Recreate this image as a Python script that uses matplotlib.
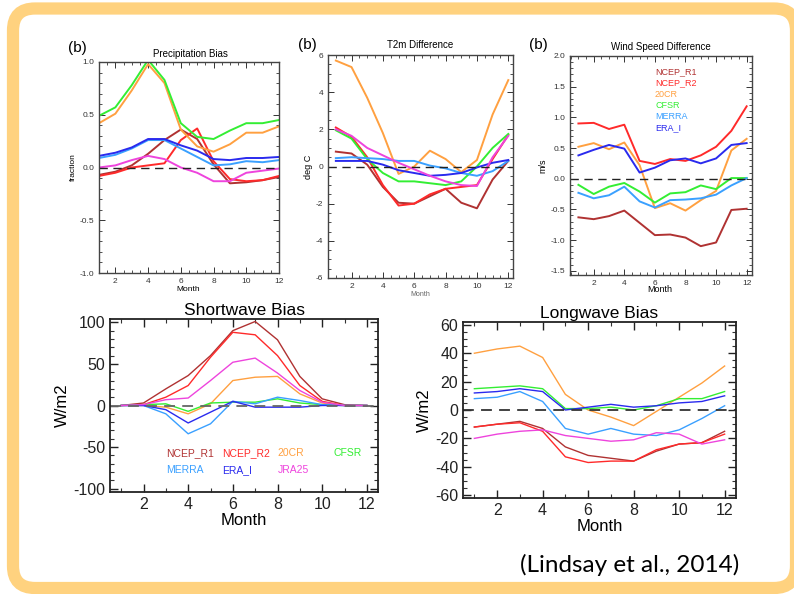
import matplotlib
matplotlib.use("Agg")
import matplotlib.pyplot as plt
from matplotlib.patches import FancyBboxPatch
from matplotlib.ticker import MultipleLocator

plt.rcParams['font.family'] = ['Liberation Sans', 'DejaVu Sans']
plt.rcParams['axes.unicode_minus'] = False

W, H = 794, 594

months = list(range(1, 13))
names = ['NCEP_R1', 'NCEP_R2', '20CR', 'CFSR', 'MERRA', 'ERA_I', 'JRA25']
colors = {'NCEP_R1': '#b03232', 'NCEP_R2': '#ff2a2a', '20CR': '#ffa040', 'CFSR': '#33ee33',
          'MERRA': '#3aa0ff', 'ERA_I': '#2a2aee', 'JRA25': '#ee44dd'}

# precipitation bias (fraction)
precip = {
    'NCEP_R1': [-0.07, -0.04, 0.02, 0.13, 0.26, 0.36, 0.27, 0.03, -0.15, -0.14, -0.12, -0.09],
    'NCEP_R2': [-0.08, -0.05, 0.00, 0.02, 0.04, 0.26, 0.37, 0.06, -0.11, -0.13, -0.12, -0.08],
    '20CR': [0.42, 0.51, 0.73, 0.98, 0.80, 0.36, 0.20, 0.15, 0.22, 0.33, 0.33, 0.39],
    'CFSR': [0.49, 0.57, 0.78, 1.02, 0.83, 0.42, 0.29, 0.27, 0.35, 0.42, 0.42, 0.45],
    'MERRA': [0.09, 0.12, 0.18, 0.26, 0.26, 0.18, 0.10, 0.02, 0.03, 0.06, 0.05, 0.07],
    'ERA_I': [0.11, 0.14, 0.19, 0.27, 0.27, 0.21, 0.16, 0.08, 0.07, 0.09, 0.09, 0.10],
    'JRA25': [0.00, 0.02, 0.07, 0.11, 0.08, 0.00, -0.05, -0.13, -0.13, -0.05, -0.03, -0.01],
}

# 2 m temperature difference (deg C)
t2m = {
    'NCEP_R1': [0.8, 0.7, 0.1, -1.1, -1.95, -2.0, -1.6, -1.2, -1.95, -2.25, -0.7, 0.3],
    'NCEP_R2': [2.1, 1.6, 0.5, -1.0, -2.1, -2.0, -1.5, -1.2, -1.1, -1.0, 0.4, 1.7],
    '20CR': [5.7, 5.35, 3.7, 1.8, -0.4, 0.0, 0.85, 0.4, -0.3, 0.35, 2.8, 4.65],
    'CFSR': [1.95, 1.5, 0.4, -0.35, -0.8, -0.8, -0.9, -1.0, -0.8, 0.0, 1.0, 1.75],
    'MERRA': [0.45, 0.5, 0.45, 0.4, 0.3, 0.3, 0.05, -0.1, -0.35, -0.5, -0.25, 0.3],
    'ERA_I': [0.3, 0.3, 0.3, 0.1, -0.2, -0.35, -0.5, -0.45, -0.35, -0.05, 0.2, 0.35],
    'JRA25': [2.0, 1.65, 1.0, 0.6, 0.2, -0.15, -0.5, -0.8, -1.0, -1.05, 0.5, 1.65],
}

# wind speed difference (m/s)
wind = {
    'NCEP_R1': [-0.63, -0.66, -0.61, -0.52, -0.72, -0.92, -0.91, -0.96, -1.10, -1.04, -0.51, -0.49],
    'NCEP_R2': [0.90, 0.91, 0.81, 0.88, 0.29, 0.24, 0.32, 0.29, 0.38, 0.52, 0.78, 1.18],
    '20CR': [0.52, 0.58, 0.48, 0.59, 0.22, -0.48, -0.40, -0.52, -0.35, -0.20, 0.46, 0.65],
    'CFSR': [-0.10, -0.25, -0.13, -0.07, -0.21, -0.39, -0.24, -0.22, -0.11, -0.17, 0.01, 0.01],
    'MERRA': [-0.23, -0.32, -0.27, -0.13, -0.37, -0.47, -0.35, -0.34, -0.32, -0.26, -0.11, 0.01],
    'ERA_I': [0.38, 0.47, 0.55, 0.49, 0.10, 0.18, 0.30, 0.33, 0.25, 0.33, 0.55, 0.58],
}

# shortwave bias (W/m2)
sw = {
    'NCEP_R1': [0, 3, 20, 36, 60, 90, 101, 79, 35, 8, 1, 0],
    'NCEP_R2': [0, 1, 10, 24, 58, 88, 85, 60, 24, 5, 0, 0],
    '20CR': [0, 0, -2, -10, 2, 30, 34, 35, 14, 3, 0, 0],
    'CFSR': [0, 1, 2, -7, 3, 4, 4, 8, 3, 1, 0, 0],
    'MERRA': [0, 0, -10, -34, -22, 5, 2, 10, 6, 1, 0, 0],
    'ERA_I': [0, 0, -5, -21, -8, 5, -2, -2, -2, 0, 0, 0],
    'JRA25': [0, 1, 7, 9, 30, 52, 57, 39, 18, 4, 0, 0],
}

# longwave bias (W/m2)
lw = {
    'NCEP_R1': [-12, -10, -8, -13, -26, -32, -34, -36, -29, -24, -23, -15],
    'NCEP_R2': [-12, -10, -9, -15, -33, -37, -36, -36, -28, -24, -23, -17],
    '20CR': [40, 43, 45, 37, 11, 0, -5, -11, -1, 9, 19, 31],
    'CFSR': [15, 16, 17, 15, 1, 1, 2, 0, 3, 8, 8, 13],
    'MERRA': [8, 9, 13, 6, -13, -17, -13, -17, -18, -14, -6, 3],
    'ERA_I': [12, 13, 15, 13, 0, 2, 4, 2, 3, 5, 6, 10],
    'JRA25': [-20, -17, -15, -14, -18, -20, -22, -21, -16, -17, -24, -21],
}

fig = plt.figure(figsize=(W / 100, H / 100), dpi=100)

# slide background with rounded orange frame
bg = fig.add_axes([0, 0, 1, 1], zorder=-10)
bg.set_xlim(0, W)
bg.set_ylim(H, 0)
bg.axis('off')
pad = 18
bg.add_patch(FancyBboxPatch((13 + pad, 8.5 + pad), 796 - 13 - 2 * pad, 588 - 8.5 - 2 * pad,
                            boxstyle='round,pad=%d,rounding_size=22' % pad,
                            fc='white', ec='#ffd27f', lw=8.8, clip_on=False))


def px(x, y):
    return x / W, 1 - y / H


def make_ax(l, r, t, b):
    a = fig.add_axes([l / W, 1 - b / H, (r - l) / W, (b - t) / H])
    a.tick_params(direction='in', top=True, right=True, which='both', colors='#333333')
    for s in a.spines.values():
        s.set_color('#444444')
        s.set_linewidth(1.0)
    return a


def small_panel(a, data, xlim, ylim, ymaj, ymin, fmt):
    for n in names:
        if n in data:
            a.plot(months, data[n], color=colors[n], lw=1.4)
    a.axhline(0, color='#222222', lw=1.0, dashes=(6, 4))
    a.set_xlim(*xlim)
    a.set_ylim(*ylim)
    a.xaxis.set_major_locator(MultipleLocator(2))
    a.xaxis.set_minor_locator(MultipleLocator(0.5))
    a.yaxis.set_major_locator(MultipleLocator(ymaj))
    a.yaxis.set_minor_locator(MultipleLocator(ymin))
    a.yaxis.set_major_formatter(fmt)
    a.tick_params(labelsize=6, length=4, width=0.7)
    a.tick_params(which='minor', length=2, width=0.6)


a1 = make_ax(99, 279, 62, 273)
small_panel(a1, precip, (1, 12), (-1, 1), 0.5, 0.1, '{x:.1f}')
a1.set_ylabel('fraction', fontsize=6, labelpad=2)
fig.text(*px(77, 48), '(b)', fontsize=11, ha='center', va='center')
fig.text(*px(190, 54), 'Precipitation Bias', fontsize=7, ha='center', va='center')
fig.text(*px(188, 289), 'Month', fontsize=6, ha='center', va='center')

a2 = make_ax(328, 513, 55, 278)
small_panel(a2, t2m, (0.5, 12.3), (-6, 6), 2, 0.5, '{x:.0f}')
a2.set_ylabel('deg C', fontsize=6.5, labelpad=2)
fig.text(*px(307, 45), '(b)', fontsize=11, ha='center', va='center')
fig.text(*px(420, 45), 'T2m Difference', fontsize=7, ha='center', va='center')
fig.text(*px(420, 295), 'Month', fontsize=5, ha='center', va='center', color='#666666')

a3 = make_ax(570, 752, 56, 275)
small_panel(a3, wind, (0.45, 12.35), (-1.57, 2.0), 0.5, 0.1, '{x:.1f}')
a3.set_ylabel('m/s', fontsize=6.5, labelpad=2)
fig.text(*px(538, 45), '(b)', fontsize=11, ha='center', va='center')
fig.text(*px(661, 47), 'Wind Speed Difference', fontsize=7, ha='center', va='center')
fig.text(*px(660, 290), 'Month', fontsize=6.5, ha='center', va='center')
for i, n in enumerate(names[:6]):
    fig.text(*px(655, 72 + i * 11.2), n, fontsize=6.5, color=colors[n], ha='left', va='center')


def big_panel(a, data, ylim, ymaj, ymin, zcolor):
    for n in names:
        a.plot(months, data[n], color=colors[n], lw=1.0)
    a.axhline(0, color=zcolor, lw=1.3, dashes=(6, 4))
    a.set_xlim(0.5, 12.5)
    a.set_ylim(*ylim)
    a.xaxis.set_major_locator(MultipleLocator(2))
    a.xaxis.set_minor_locator(MultipleLocator(1))
    a.yaxis.set_major_locator(MultipleLocator(ymaj))
    a.yaxis.set_minor_locator(MultipleLocator(ymin))
    a.tick_params(labelsize=11.5, length=6, width=1, colors='#222222')
    a.tick_params(which='minor', length=3, width=0.8)
    a.set_xlabel('Month', fontsize=12, labelpad=1)
    a.set_ylabel('W/m2', fontsize=12, labelpad=2)
    for s in a.spines.values():
        s.set_linewidth(1.3)
        s.set_color('#222222')


a4 = make_ax(110, 378, 319, 492)
big_panel(a4, sw, (-104, 104), 50, 10, '#666666')
a4.set_title('Shortwave Bias', fontsize=12.5, pad=3)
sw_legend_x = [3.0, 5.5, 8.0, 10.5, 3.0, 5.5, 8.0]
sw_legend_y = [-57, -57, -57, -57, -78, -78, -78]
sw_order = ['NCEP_R1', 'NCEP_R2', '20CR', 'CFSR', 'MERRA', 'ERA_I', 'JRA25']
for n, lx, ly in zip(sw_order, sw_legend_x, sw_legend_y):
    a4.text(lx, ly, n, color=colors[n], fontsize=7.5, ha='left', va='center')

a5 = make_ax(463, 736, 322, 498)
big_panel(a5, lw, (-62, 62), 20, 5, '#333333')
a5.set_title('Longwave Bias', fontsize=12.5, pad=3)

fig.text(*px(630, 565), '(Lindsay et al., 2014)', fontsize=17.5, family=['Lato', 'DejaVu Sans'],
         ha='center', va='center')

fig.savefig('out.png', dpi=100)
